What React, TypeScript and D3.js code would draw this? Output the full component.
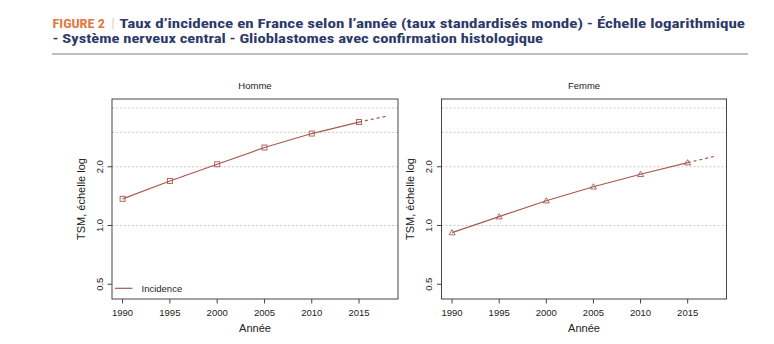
import React, { useEffect, useRef } from "react";
import * as d3 from "d3";

const years = [1990, 1995, 2000, 2005, 2010, 2015];
const hommeValues = [1.37, 1.69, 2.06, 2.51, 2.96, 3.39];
const femmeValues = [0.92, 1.11, 1.34, 1.58, 1.83, 2.10];
const projYear = 2018;
const hommeProj = 3.64;
const femmeProj = 2.27;
const xTicks = [1990, 1995, 2000, 2005, 2010, 2015];
const yTicks = [0.5, 1.0, 2.0];
const yGrid = [1, 2, 3, 4];
const panelTitles = ["Homme", "Femme"];
const legendLabel = ["Incidence"];

const LINE = "#a85a4e";
const PLOT_FONT = "'Liberation Sans', Arial, Helvetica, sans-serif";
const TITLE_FONT = "'Liberation Sans Narrow', 'Roboto Condensed', 'Arial Narrow', 'Liberation Sans', sans-serif";

export default function App() {
  const ref = useRef<SVGSVGElement | null>(null);

  useEffect(() => {
    document.body.style.margin = "0";
    const svg = d3.select(ref.current);
    svg.selectAll("*").remove();

    // Title
    const titleText = (x: number, y: number, len: number, fill: string, txt: string, weight = "bold") =>
      svg.append("text")
        .attr("x", x).attr("y", y)
        .attr("font-family", TITLE_FONT).attr("font-weight", weight).attr("font-size", 13)
        .attr("fill", fill)
        .attr("textLength", len).attr("lengthAdjust", "spacingAndGlyphs")
        .text(txt);
    titleText(52.5, 28, 52.5, "#e0793f", "FIGURE 2");
    svg.append("line").attr("x1", 113).attr("x2", 113).attr("y1", 18).attr("y2", 29)
      .attr("stroke", "#ecc4aa").attr("stroke-width", 1);
    titleText(119.3, 28, 625.7, "#2c3a6a", "Taux d\u2019incidence en France selon l\u2019ann\u00e9e (taux standardis\u00e9s monde) - \u00c9chelle logarithmique");
    titleText(52.5, 43, 490.5, "#2c3a6a", "- Syst\u00e8me nerveux central - Glioblastomes avec confirmation histologique");
    svg.append("line").attr("x1", 52).attr("x2", 748).attr("y1", 54).attr("y2", 54)
      .attr("stroke", "#a8a8a8").attr("stroke-width", 1.6);

    const panels = [
      { left: 112, right: 398, title: panelTitles[0], values: hommeValues, proj: hommeProj, marker: "square", legend: true },
      { left: 441.5, right: 726.5, title: panelTitles[1], values: femmeValues, proj: femmeProj, marker: "triangle", legend: false },
    ];
    const top = 99, bottom = 299;

    panels.forEach((p) => {
      const g = svg.append("g");
      const x = d3.scaleLinear().domain([1988.88, 2019.12]).range([p.left, p.right]);
      const y = d3.scaleLog().domain([0.42, 4.45]).range([bottom, top]);

      // grid
      g.selectAll("line.grid").data(yGrid).enter().append("line")
        .attr("x1", p.left).attr("x2", p.right)
        .attr("y1", (d) => y(d)).attr("y2", (d) => y(d))
        .attr("stroke", "#c4c4c4").attr("stroke-width", 0.9).attr("stroke-dasharray", "2,2");

      // box
      g.append("rect").attr("x", p.left).attr("y", top)
        .attr("width", p.right - p.left).attr("height", bottom - top)
        .attr("fill", "none").attr("stroke", "#444").attr("stroke-width", 1);

      // x ticks
      xTicks.forEach((t) => {
        g.append("line").attr("x1", x(t)).attr("x2", x(t)).attr("y1", bottom).attr("y2", bottom + 4.5)
          .attr("stroke", "#444").attr("stroke-width", 1);
        g.append("text").attr("x", x(t)).attr("y", bottom + 16.5).attr("text-anchor", "middle")
          .attr("font-family", PLOT_FONT).attr("font-size", 9.5).attr("fill", "#222").text(String(t));
      });
      // y ticks
      yTicks.forEach((t) => {
        g.append("line").attr("x1", p.left).attr("x2", p.left - 4.5).attr("y1", y(t)).attr("y2", y(t))
          .attr("stroke", "#444").attr("stroke-width", 1);
        g.append("text")
          .attr("transform", `translate(${p.left - 9.3},${y(t)}) rotate(-90)`)
          .attr("text-anchor", "middle")
          .attr("font-family", PLOT_FONT).attr("font-size", 9.5).attr("fill", "#222").text(t.toFixed(1));
      });

      // labels
      g.append("text").attr("x", (p.left + p.right) / 2).attr("y", 89).attr("text-anchor", "middle")
        .attr("font-family", PLOT_FONT).attr("font-size", 9.5).attr("fill", "#222").text(p.title);
      g.append("text").attr("x", (p.left + p.right) / 2).attr("y", 332).attr("text-anchor", "middle")
        .attr("font-family", PLOT_FONT).attr("font-size", 11).attr("fill", "#222").text("Ann\u00e9e");
      g.append("text")
        .attr("transform", `translate(${p.left - 27.5},${(top + bottom) / 2}) rotate(-90)`)
        .attr("text-anchor", "middle")
        .attr("font-family", PLOT_FONT).attr("font-size", 11).attr("fill", "#222").text("TSM, \u00e9chelle log");

      // line
      const pts = years.map((yr, i) => [yr, p.values[i]] as [number, number]);
      const lineGen = d3.line<[number, number]>().x((d) => x(d[0])).y((d) => y(d[1]));
      g.append("path").attr("d", lineGen(pts)).attr("fill", "none").attr("stroke", LINE).attr("stroke-width", 1.2);
      g.append("path").attr("d", lineGen([[years[years.length - 1], p.values[p.values.length - 1]], [projYear, p.proj]]))
        .attr("fill", "none").attr("stroke", LINE).attr("stroke-width", 1.2).attr("stroke-dasharray", "3,3");

      // markers
      if (p.marker === "square") {
        g.selectAll("rect.m").data(pts).enter().append("rect")
          .attr("x", (d) => x(d[0]) - 2.5).attr("y", (d) => y(d[1]) - 2.5)
          .attr("width", 5).attr("height", 5)
          .attr("fill", "none").attr("stroke", LINE).attr("stroke-width", 0.9);
      } else {
        const sym = d3.symbol().type(d3.symbolTriangle).size(16);
        g.selectAll("path.m").data(pts).enter().append("path")
          .attr("d", sym()!)
          .attr("transform", (d) => `translate(${x(d[0])},${y(d[1]) + 0.5})`)
          .attr("fill", "none").attr("stroke", LINE).attr("stroke-width", 0.9);
      }

      if (p.legend) {
        g.append("line").attr("x1", p.left + 3).attr("x2", p.left + 20.5).attr("y1", 288.3).attr("y2", 288.3)
          .attr("stroke", LINE).attr("stroke-width", 1.2);
        g.append("text").attr("x", p.left + 29.5).attr("y", 291.5)
          .attr("font-family", PLOT_FONT).attr("font-size", 9.5).attr("fill", "#222").text(legendLabel[0]);
      }
    });
  }, []);

  return <svg ref={ref} width={774} height={344} style={{ display: "block", background: "#fff" }} />;
}
